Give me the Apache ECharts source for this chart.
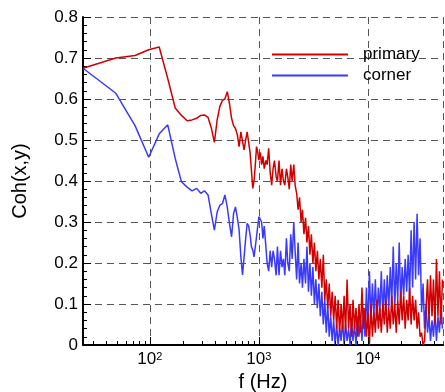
<!DOCTYPE html>
<html>
<head>
<meta charset="utf-8">
<script src="https://cdn.jsdelivr.net/npm/echarts@6/dist/echarts.min.js"></script>
<style>
html,body{margin:0;padding:0;background:#fff;}
#chart{width:445px;height:392px;}
</style>
</head>
<body>
<div id="chart"></div>
<script>
// frequency bins (Hz)
const freq = [
  24.4, 48.8, 73.2, 97.7, 122, 146, 171, 195, 220, 244,
  269, 293, 317, 342, 366, 391, 415, 439, 464, 488,
  513, 537, 562, 586, 610, 635, 659, 684, 708, 732,
  757, 781, 806, 830, 854, 879, 903, 928, 952, 977,
  1001, 1030, 1060, 1090, 1120, 1160, 1190, 1230, 1270, 1310,
  1350, 1390, 1440, 1480, 1530, 1580, 1630, 1680, 1730, 1790,
  1840, 1900, 1960, 2020, 2090, 2150, 2220, 2290, 2360, 2440,
  2510, 2590, 2680, 2760, 2850, 2940, 3030, 3130, 3230, 3330,
  3440, 3550, 3660, 3780, 3900, 4020, 4150, 4280, 4420, 4560,
  4700, 4850, 5010, 5170, 5330, 5500, 5680, 5860, 6050, 6240,
  6440, 6650, 6860, 7080, 7300, 7540, 7780, 8030, 8280, 8550,
  8820, 9100, 9390, 9690, 10000, 10320, 10650, 10990, 11340, 11700,
  12080, 12460, 12860, 13270, 13700, 14130, 14590, 15050, 15530, 16030,
  16540, 17070, 17620, 18180, 18760, 19360, 19980, 20620, 21280, 21960,
  22660, 23380, 24130, 24900, 25700, 26520, 27370, 28240, 29140, 30070,
  31040, 32030, 33050, 34110, 35200, 36330, 37490, 38690, 39920, 41200,
  42520, 43880, 45280, 46730, 48220
];

// coherence, primary
const primary = [
  0.675, 0.700, 0.706, 0.720, 0.727, 0.650, 0.578, 0.560, 0.547, 0.549,
  0.553, 0.560, 0.561, 0.555, 0.530, 0.494, 0.550, 0.582, 0.597, 0.600,
  0.618, 0.590, 0.553, 0.535, 0.528, 0.513, 0.484, 0.520, 0.516, 0.476,
  0.500, 0.520, 0.516, 0.470, 0.427, 0.382, 0.400, 0.440, 0.484, 0.470,
  0.451, 0.47, 0.44, 0.46, 0.43, 0.45, 0.44, 0.48, 0.42, 0.39,
  0.43, 0.45, 0.41, 0.40, 0.45, 0.39, 0.43, 0.40, 0.39, 0.43,
  0.41, 0.38, 0.44, 0.40, 0.44, 0.39, 0.37, 0.33, 0.36, 0.30,
  0.33, 0.27, 0.31, 0.25, 0.29, 0.22, 0.27, 0.20, 0.25, 0.18,
  0.23, 0.16, 0.21, 0.14, 0.22, 0.11, 0.16, 0.09, 0.15, 0.07,
  0.13, 0.06, 0.12, 0.04, 0.11, 0.03, 0.10, 0.04, 0.12, 0.03,
  0.16, 0.04, 0.10, 0.02, 0.11, 0.04, 0.09, 0.02, 0.10, 0.03,
  0.14, 0.04, 0.09, 0.02, 0.08, 0.00, 0.10, 0.02, 0.08, 0.03,
  0.11, 0.04, 0.09, 0.03, 0.10, 0.05, 0.11, 0.03, 0.09, 0.04,
  0.12, 0.05, 0.10, 0.03, 0.11, 0.05, 0.13, 0.06, 0.12, 0.04,
  0.11, 0.06, 0.14, 0.05, 0.12, 0.06, 0.11, 0.04, 0.08, 0.02,
  0.03, 0.00, 0.01, 0.09, 0.16, 0.06, 0.17, 0.07, 0.16, 0.05,
  0.21, 0.07, 0.18, 0.05, 0.16
];

// coherence, corner
const corner = [
  0.675, 0.614, 0.535, 0.458, 0.515, 0.537, 0.455, 0.398, 0.385, 0.376,
  0.382, 0.370, 0.376, 0.366, 0.321, 0.280, 0.325, 0.341, 0.345, 0.366,
  0.337, 0.297, 0.264, 0.320, 0.337, 0.310, 0.280, 0.215, 0.171, 0.215,
  0.260, 0.297, 0.290, 0.270, 0.240, 0.232, 0.215, 0.240, 0.264, 0.290,
  0.313, 0.31, 0.30, 0.26, 0.29, 0.24, 0.20, 0.18, 0.23, 0.19,
  0.23, 0.21, 0.17, 0.24, 0.17, 0.23, 0.19, 0.21, 0.17, 0.26,
  0.20, 0.18, 0.27, 0.21, 0.30, 0.23, 0.16, 0.25, 0.15, 0.20,
  0.14, 0.21, 0.15, 0.24, 0.13, 0.20, 0.12, 0.19, 0.10, 0.16,
  0.09, 0.15, 0.07, 0.13, 0.05, 0.11, 0.03, 0.10, 0.02, 0.07,
  0.01, 0.06, 0.00, 0.05, 0.00, 0.04, 0.01, 0.06, 0.00, 0.05,
  0.01, 0.04, 0.00, 0.06, 0.01, 0.05, 0.00, 0.07, 0.02, 0.06,
  0.01, 0.09, 0.02, 0.14, 0.04, 0.18, 0.06, 0.15, 0.07, 0.16,
  0.06, 0.14, 0.08, 0.18, 0.07, 0.16, 0.08, 0.17, 0.09, 0.19,
  0.10, 0.24, 0.09, 0.20, 0.11, 0.25, 0.10, 0.19, 0.12, 0.21,
  0.13, 0.22, 0.12, 0.28, 0.14, 0.30, 0.16, 0.32, 0.17, 0.26,
  0.08, 0.15, 0.04, 0.10, 0.03, 0.07, 0.01, 0.06, 0.02, 0.08,
  0.01, 0.07, 0.03, 0.10, 0.04
];

// x-axis tick positions (Hz)
const xMajorTicks = [100, 1000, 10000];
const xMinorTicks = [30, 40, 50, 60, 70, 80, 90, 200, 300, 400, 500, 600, 700, 800, 900,
  2000, 3000, 4000, 5000, 6000, 7000, 8000, 9000, 20000, 30000, 40000];
const seriesNames = ['primary', 'corner'];

const FONT = 'Liberation Sans, Arial, Helvetica, sans-serif';
const chart = echarts.init(document.getElementById('chart'), null, {renderer: 'canvas'});

const gridLine = {show: true, lineStyle: {color: '#555', width: 1, type: [7, 5]}};

function tickSeries(values, len) {
  return {
    type: 'custom', silent: true, clip: false, z: 5,
    xAxisIndex: 0, yAxisIndex: 0,
    data: values.map(v => [v, 0]),
    encode: {x: 0, y: 1},
    renderItem: function (params, api) {
      const p = api.coord([api.value(0), 0]);
      const x = Math.round(p[0]) + 0.5;
      return {
        type: 'line',
        shape: {x1: x, y1: p[1], x2: x, y2: p[1] - len},
        style: {stroke: '#000', lineWidth: 1}
      };
    }
  };
}

chart.setOption({
  animation: false,
  backgroundColor: '#fff',
  textStyle: {fontFamily: FONT},
  grid: {left: 83, right: 2, top: 17, bottom: 47, containLabel: false, outerBoundsMode: 'none'},
  legend: {
    data: seriesNames,
    orient: 'vertical',
    left: 272, top: 46, padding: 0,
    icon: 'rect',
    itemWidth: 76, itemHeight: 2, itemGap: 4,
    textStyle: {fontSize: 17, color: '#000', fontFamily: FONT, padding: [0, 0, 0, 10]}
  },
  xAxis: {
    type: 'log', logBase: 10, min: 24.4, max: 48800,
    name: 'f (Hz)', nameLocation: 'middle', nameGap: 24,
    nameTextStyle: {fontSize: 20, color: '#000', fontFamily: FONT},
    axisLine: {show: true, onZero: false, lineStyle: {color: '#000', width: 2}},
    axisTick: {show: false},
    axisLabel: {
      customValues: xMajorTicks, margin: 6,
      formatter: function (v) {
        const e = Math.round(Math.log10(v));
        if (Math.abs(Math.pow(10, e) - v) > 1e-6 * v) return '';
        return '{b|10}{s|' + e + '}';
      },
      rich: {
        b: {fontSize: 17, color: '#000', fontFamily: FONT},
        s: {fontSize: 11, color: '#000', fontFamily: FONT, verticalAlign: 'top'}
      }
    },
    splitLine: gridLine,
    minorTick: {show: false}
  },
  yAxis: {
    type: 'value', min: 0, max: 0.8, interval: 0.1,
    name: 'Coh(x,y)', nameLocation: 'middle', nameGap: 53,
    nameTextStyle: {fontSize: 20, color: '#000', fontFamily: FONT},
    axisLine: {show: true, lineStyle: {color: '#000', width: 2}},
    axisTick: {show: true, inside: true, length: 8, lineStyle: {color: '#000', width: 1}},
    minorTick: {show: true, splitNumber: 5, length: 4, lineStyle: {color: '#000', width: 1}},
    axisLabel: {
      fontSize: 17, color: '#000', margin: 5, fontFamily: FONT,
      formatter: function (v) { return v === 0 ? '0' : v.toFixed(1); }
    },
    splitLine: gridLine
  },
  series: [
    tickSeries(xMajorTicks, 8),
    tickSeries(xMinorTicks, 4),
    {
      name: 'corner', type: 'line',
      data: freq.map((f, i) => [f, corner[i]]),
      showSymbol: false, symbol: 'none',
      lineStyle: {color: '#3a3aff', width: 1.5}, itemStyle: {color: '#3a3aff'}
    }, {
      name: 'primary', type: 'line',
      data: freq.map((f, i) => [f, primary[i]]),
      showSymbol: false, symbol: 'none',
      lineStyle: {color: '#d00000', width: 1.5}, itemStyle: {color: '#d00000'}
    }
  ]
});
</script>
</body>
</html>
